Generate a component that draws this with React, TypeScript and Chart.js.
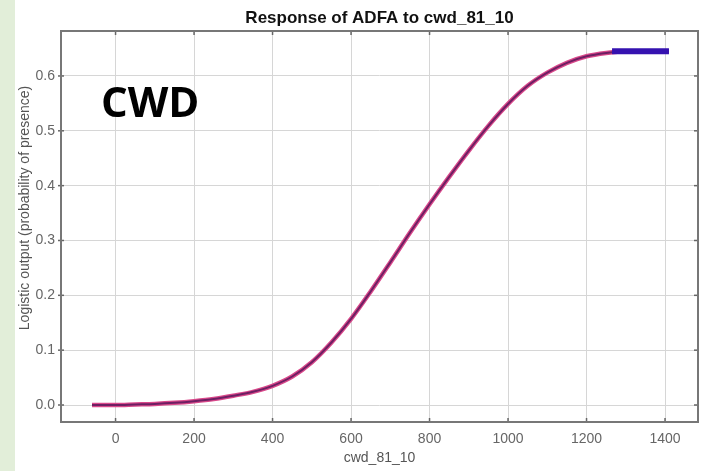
import React, { useEffect, useRef } from "react";
import { Chart, registerables } from "chart.js";

Chart.register(...registerables);

const chartTitle = "Response of ADFA to cwd_81_10";
const xAxisTitle = "cwd_81_10";
const yAxisTitle = "Logistic output (probability of presence)";
const overlayLabel = "CWD";

const xValues = [-60, 0, 50, 100, 150, 200, 250, 300, 350, 400, 450, 500, 550, 600, 650, 700, 750, 800, 850, 900, 950, 1000, 1050, 1100, 1150, 1200, 1250, 1300, 1350, 1410];
const responseValues = [0.0, 0.0, 0.001, 0.002, 0.004, 0.007, 0.011, 0.017, 0.024, 0.035, 0.052, 0.078, 0.114, 0.157, 0.207, 0.26, 0.314, 0.366, 0.416, 0.464, 0.509, 0.549, 0.582, 0.606, 0.624, 0.636, 0.642, 0.645, 0.645, 0.645];
const plateauX = [1265, 1410];
const plateauValues = [0.645, 0.645];

const xTickValues = [0, 200, 400, 600, 800, 1000, 1200, 1400];
const yTickValues = [0.0, 0.1, 0.2, 0.3, 0.4, 0.5, 0.6];

const FONT = '"Liberation Sans", Arial, sans-serif';

const decorPlugin = {
  id: "decor",
  afterDraw(chart: any) {
    const { ctx, chartArea: a, scales } = chart;
    ctx.save();
    ctx.strokeStyle = "#666";
    ctx.lineWidth = 1.5;
    const seg = (x1: number, y1: number, x2: number, y2: number) => {
      ctx.beginPath();
      ctx.moveTo(x1, y1);
      ctx.lineTo(x2, y2);
      ctx.stroke();
    };
    for (const v of xTickValues) {
      const px = scales.x.getPixelForValue(v);
      seg(px, a.bottom, px, a.bottom - 4);
      seg(px, a.top, px, a.top + 4);
    }
    for (const v of yTickValues) {
      const py = scales.y.getPixelForValue(v);
      seg(a.left - 3, py, a.left + 3, py);
      seg(a.right, py, a.right - 4, py);
    }
    ctx.lineWidth = 2;
    ctx.strokeStyle = "#777";
    ctx.strokeRect(a.left, a.top, a.right - a.left, a.bottom - a.top);

    // y axis title
    ctx.save();
    ctx.translate(25, 208);
    ctx.rotate(-Math.PI / 2);
    ctx.font = `14px ${FONT}`;
    ctx.fillStyle = "#555";
    ctx.textAlign = "center";
    ctx.textBaseline = "middle";
    ctx.fillText(yAxisTitle, 0, 0);
    ctx.restore();

    // overlay label
    ctx.font = `bold 42px "Open Sans", ${FONT}`;
    ctx.fillStyle = "#000";
    ctx.textAlign = "left";
    ctx.textBaseline = "alphabetic";
    ctx.fillText(overlayLabel, 101, 117);
    ctx.restore();
  },
};

export default function App() {
  const canvasRef = useRef<HTMLCanvasElement | null>(null);

  useEffect(() => {
    const canvas = canvasRef.current;
    if (!canvas) return;
    const mainData = xValues.map((x, i) => ({ x, y: responseValues[i] }));
    const plateauData = plateauX.map((x, i) => ({ x, y: plateauValues[i] }));
    const chart = new Chart(canvas, {
      type: "line",
      data: {
        datasets: [
          {
            data: plateauData,
            borderColor: "#3512b0",
            borderWidth: 6,
            pointRadius: 0,
            order: 0,
          },
          {
            data: mainData,
            borderColor: "#6e1f63",
            borderWidth: 2,
            pointRadius: 0,
            cubicInterpolationMode: "monotone",
            order: 1,
          },
          {
            data: mainData,
            borderColor: "#d9488a",
            borderWidth: 4.5,
            pointRadius: 0,
            cubicInterpolationMode: "monotone",
            order: 2,
          },
        ],
      },
      options: {
        animation: false,
        responsive: false,
        layout: { padding: { left: 15, right: 9, top: 0, bottom: 0 } },
        plugins: {
          legend: { display: false },
          tooltip: { enabled: false },
          title: {
            display: true,
            text: chartTitle,
            fullSize: false,
            color: "#111",
            font: { family: FONT, size: 17, weight: "bold" },
            padding: { top: 8.5, bottom: 2.1 },
          },
        },
        scales: {
          x: {
            type: "linear",
            min: -139,
            max: 1484,
            afterFit: (s: any) => {
              s.height = 49;
            },
            afterBuildTicks: (s: any) => {
              s.ticks = xTickValues.map((v) => ({ value: v }));
            },
            ticks: {
              color: "#666",
              font: { family: FONT, size: 14 },
              padding: 9,
              maxRotation: 0,
              autoSkip: false,
              callback: (v: any) => String(v),
            },
            grid: { color: "#d6d6d6", lineWidth: 1, drawTicks: false },
            border: { display: false },
            title: {
              display: true,
              text: xAxisTitle,
              color: "#555",
              font: { family: FONT, size: 14 },
              padding: { top: 0, bottom: 4.6 },
            },
          },
          y: {
            type: "linear",
            min: -0.031,
            max: 0.682,
            afterFit: (s: any) => {
              s.width = 46;
            },
            afterBuildTicks: (s: any) => {
              s.ticks = yTickValues.map((v) => ({ value: v }));
            },
            ticks: {
              color: "#666",
              font: { family: FONT, size: 14 },
              padding: 6,
              autoSkip: false,
              callback: (v: any) => Number(v).toFixed(1),
            },
            grid: { color: "#d6d6d6", lineWidth: 1, drawTicks: false },
            border: { display: false },
          },
        },
      },
      plugins: [decorPlugin],
    } as any);
    return () => chart.destroy();
  }, []);

  return (
    <div
      style={{
        position: "fixed",
        left: 0,
        top: 0,
        width: 707,
        height: 471,
        background: "#ffffff",
        overflow: "hidden",
      }}
    >
      <div
        style={{
          position: "absolute",
          left: 0,
          top: 0,
          width: 15,
          height: 471,
          background: "#e2eed9",
        }}
      />
      <canvas
        ref={canvasRef}
        width={707}
        height={471}
        style={{ position: "absolute", left: 0, top: 0, width: 707, height: 471 }}
      />
    </div>
  );
}
